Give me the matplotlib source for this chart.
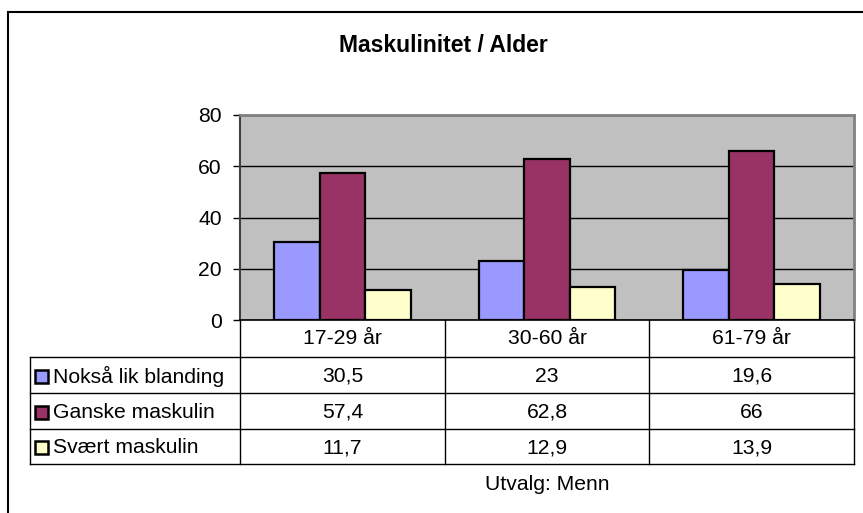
import numpy as np
import matplotlib.pyplot as plt
from matplotlib.patches import Rectangle

plt.rcParams['font.family'] = ['Liberation Sans', 'DejaVu Sans']

# Data
categories = ["17-29 år", "30-60 år", "61-79 år"]
series_names = ["Nokså lik blanding", "Ganske maskulin", "Svært maskulin"]
noksaa = [30.5, 23, 19.6]
ganske = [57.4, 62.8, 66]
svaert = [11.7, 12.9, 13.9]
series_values = [noksaa, ganske, svaert]
colors = ["#9999FF", "#993366", "#FFFFCC"]

W, H = 863, 513
fs = 15.2
fig = plt.figure(figsize=(W / 100, H / 100), dpi=100)

# pixel-space overlay for frame, table and text
ov = fig.add_axes([0, 0, 1, 1])
ov.set_xlim(0, W)
ov.set_ylim(H, 0)
ov.axis("off")

# outer chart frame (clipped on right and bottom)
ov.plot([8, 8, W + 5], [H + 5, 12, 12], color="black", lw=1.5, solid_joinstyle="miter")

ov.text(443, 45, "Maskulinitet / Alder", ha="center", va="center",
        fontsize=16.5, fontweight="bold")

# plot area
px0, px1, py0, py1 = 240, 854, 115, 320
ax = fig.add_axes([px0 / W, 1 - py1 / H, (px1 - px0) / W, (py1 - py0) / H])
ax.set_facecolor("#C0C0C0")
ax.set_xlim(0, len(categories))
ax.set_ylim(0, 80)
ax.set_yticks([0, 20, 40, 60, 80])
ax.tick_params(axis="y", labelsize=fs, length=5, width=1, pad=8)
ax.set_xticks([])
ax.grid(axis="y", color="black", lw=1)
ax.set_axisbelow(True)
for side in ["top", "right"]:
    ax.spines[side].set_color("#808080")
    ax.spines[side].set_linewidth(2)
ax.spines["left"].set_color("#404040")
ax.spines["left"].set_linewidth(1.5)
ax.spines["bottom"].set_color("black")
ax.spines["bottom"].set_linewidth(1.2)

bw = 1 / 4.5
x = np.arange(len(categories)) + 0.5
for i, (vals, c) in enumerate(zip(series_values, colors)):
    ax.bar(x + (i - 1) * bw, vals, width=bw, color=c, edgecolor="black", linewidth=1.6)

# data table
col_edges = [240, 445, 649, 854]
row_lines = [357, 393, 429, 464]
lc = "black"
for y in row_lines:
    ov.plot([30, 854], [y, y], color=lc, lw=1)
ov.plot([30, 30], [357, 464], color=lc, lw=1)
for xe in col_edges:
    ov.plot([xe, xe], [320, 464], color=lc, lw=1)

for j, cat in enumerate(categories):
    cx = (col_edges[j] + col_edges[j + 1]) / 2
    ov.text(cx, 339, cat, ha="center", va="center", fontsize=fs)

for i, (name, vals, c) in enumerate(zip(series_names, series_values, colors)):
    cy = (row_lines[i] + row_lines[i + 1]) / 2 + 1
    ov.add_patch(Rectangle((35, cy - 6.5), 13, 13, facecolor=c, edgecolor="black", lw=1.8))
    ov.text(53, cy, name, ha="left", va="center", fontsize=fs)
    for j, v in enumerate(vals):
        cx = (col_edges[j] + col_edges[j + 1]) / 2
        ov.text(cx, cy, f"{v:g}".replace(".", ","), ha="center", va="center", fontsize=fs)

ov.text(547, 484, "Utvalg: Menn", ha="center", va="center", fontsize=fs)

fig.savefig("out.png", dpi=100)
